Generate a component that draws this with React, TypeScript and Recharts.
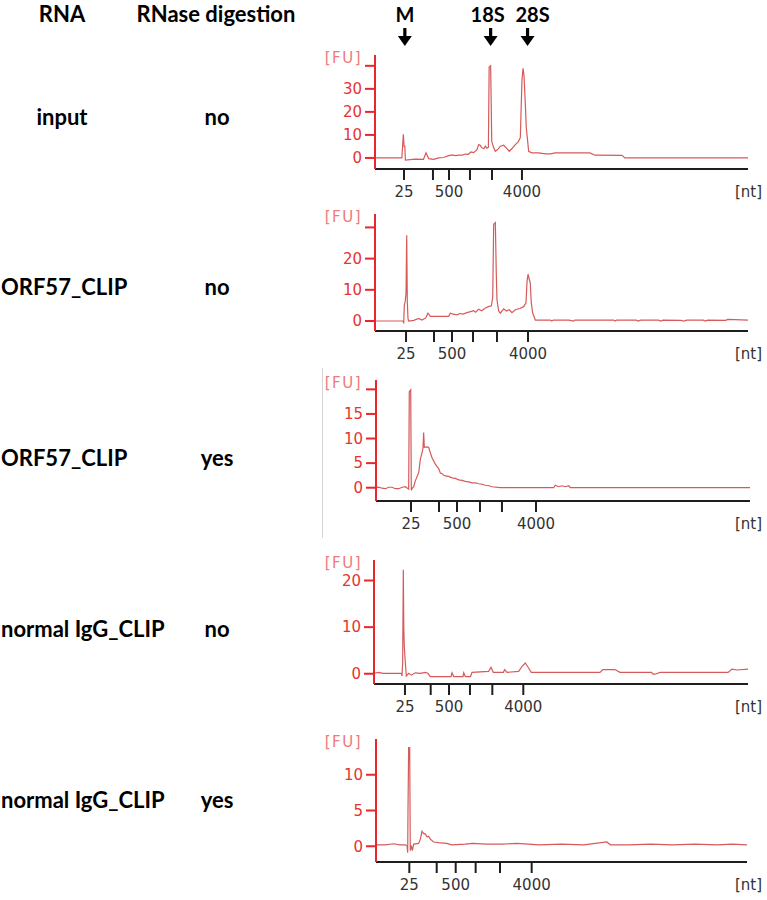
import React from "react";
import { LineChart, Line, XAxis, YAxis } from "recharts";

// Bioanalyzer electropherograms, x = migration time (s), y = fluorescence [FU]
type Pt = [number, number];

const rnaLabels = ["input", "ORF57_CLIP", "ORF57_CLIP", "normal IgG_CLIP", "normal IgG_CLIP"];
const rnaseLabels = ["no", "no", "yes", "no", "yes"];
const ladderLabels = ["25", "", "500", "", "", "4000"];
const markerLabels = ["M", "18S", "28S"];
const markerTimes = [22.0, 33.5, 38.45];

const inputLadder = [21.89, 25.77, 27.92, 30.73, 33.68, 37.7];
const orfLadder = [22.16, 25.91, 28.32, 31.14, 34.35, 38.51];
const orfRnaseLadder = [22.68, 26.42, 28.83, 31.9, 34.84, 39.39];
const iggLadder = [22.14, 25.58, 28.03, 30.83, 33.82, 37.96];
const iggRnaseLadder = [22.49, 26.18, 28.74, 31.43, 34.71, 38.98];

const inputTrace: Pt[] = [
  [18, 0], [21.6, 0], [21.8, 10.3], [21.9, 5], [22.0, 5], [22.07, -0.9], [23.4, -0.5], [24.5, -0.6],
  [24.84, 2.2], [25.2, -0.3], [25.87, -0.6], [26.53, 0], [27.2, 0.2], [27.78, 0.9], [28.32, 1.3],
  [28.8, 1.0], [29.22, 1.2], [29.7, 1.2], [30.1, 1.7], [30.5, 1.6], [30.87, 2.6], [31.23, 2.3],
  [31.67, 3.6], [31.9, 5.8], [32.1, 5.5], [32.34, 4.4], [32.6, 4.0], [32.79, 5.1], [33.0, 4.2],
  [33.2, 4.6], [33.3, 39.5], [33.5, 40], [33.65, 7.3], [33.9, 4.5], [34.13, 2.9], [34.5, 3.8],
  [34.8, 5.1], [35.25, 5.5], [35.6, 4.4], [36.0, 2.9], [36.4, 4.2], [36.81, 5.8], [37.2, 7.0],
  [37.48, 8.8], [37.7, 33.7], [37.84, 38.9], [37.97, 36], [38.15, 23.4], [38.28, 13.1], [38.6, 2.9],
  [39.0, 2.2], [39.94, 2.2], [40.83, 1.8], [41.5, 1.8], [42.17, 2.2], [44, 2.2], [46.8, 2.2],
  [47.5, 1.2], [51.1, 1.1], [51.5, 0], [68, 0],
];

const orfTrace: Pt[] = [
  [18, 0], [21.71, 0], [21.85, -0.5], [21.93, 5.2], [22.05, 6.2], [22.16, 8.9], [22.25, 27.5],
  [22.33, 6.2], [22.42, 0.9], [22.51, 0], [23.2, 0.2], [23.85, 0.8], [24.3, 0.3], [24.8, 1.0],
  [25.1, 2.5], [25.42, 1.5], [27.87, 1.5], [28.1, 2.5], [28.5, 2.2], [28.99, 2.0], [29.4, 2.4],
  [29.8, 2.2], [30.33, 2.7], [30.8, 3.0], [31.23, 3.3], [31.5, 2.8], [31.9, 3.8], [32.3, 3.3],
  [32.79, 4.2], [33.2, 4.6], [33.6, 4.9], [33.78, 7.6], [33.91, 31], [34.13, 31.5], [34.26, 15],
  [34.35, 6.8], [34.58, 3.2], [34.8, 2.5], [35.25, 3.9], [35.6, 3.2], [36.0, 3.6], [36.36, 2.7],
  [36.81, 3.6], [37.4, 4.0], [37.93, 4.6], [38.24, 5.8], [38.38, 12.7], [38.51, 15], [38.69, 13.3],
  [38.82, 12], [38.95, 5.8], [39.14, 2.5], [39.49, 0.3], [41.5, 0.3], [41.7, 0], [41.9, 0.3],
  [44, 0.3], [44.6, 0], [44.8, 0.3], [50, 0.3], [50.2, 0], [50.4, 0.3], [53, 0.3], [53.3, 0],
  [53.6, 0.3], [56, 0.3], [56.3, 0], [56.6, 0.3], [59, 0.2], [59.4, 0], [59.8, 0.3], [62, 0.3],
  [62.3, 0], [62.6, 0.3], [65, 0.2], [65.3, 0.5], [68, 0.3],
];

const orfRnaseTrace: Pt[] = [
  [18, 0], [18.36, 0.1], [18.8, -0.1], [19.25, -0.2], [19.7, 0.1], [20.14, 0.1], [20.6, -0.2],
  [21.03, -0.2], [21.5, 0.1], [21.92, 0.2], [22.37, -0.3], [22.45, 19.5], [22.64, 19.9], [22.72, -0.5],
  [22.81, -0.2], [23.04, 0.2], [23.26, 1.4], [23.71, 3.1], [23.93, 5.8], [24.15, 7.1], [24.28, 8.0],
  [24.37, 11.2], [24.46, 8.2], [24.82, 8.3], [25.04, 8.2], [25.26, 7.1], [25.49, 6.1], [25.93, 4.8],
  [26.38, 3.9], [26.6, 3.0], [26.82, 2.9], [27.0, 2.6], [27.27, 2.4], [27.7, 2.3], [28.16, 2.0],
  [28.6, 1.9], [29.06, 1.6], [29.5, 1.5], [29.94, 1.3], [30.4, 1.2], [30.83, 1.0], [31.3, 1.0],
  [31.73, 0.8], [32.2, 0.7], [32.62, 0.5], [33.1, 0.4], [33.51, 0.2], [34.62, 0], [41.76, 0],
  [41.97, 0.5], [42.4, 0.2], [42.87, 0.4], [43.3, 0.2], [43.76, 0.4], [43.98, 0], [68, 0],
];

const iggTrace: Pt[] = [
  [18, 0.1], [18.62, 0.3], [19.2, 0.1], [20.41, 0.1], [21.65, 0.1], [21.74, -0.5], [21.83, 2.3],
  [21.92, 22.3], [21.98, 10], [22.05, 5.8], [22.19, 2.3], [22.32, -0.5], [22.64, 0.1], [23.0, -0.3],
  [23.53, 0.2], [24.2, 0.1], [24.86, 0.3], [25.2, 0.1], [25.53, -0.6], [28.3, -0.6], [28.43, 0.2],
  [28.66, -0.6], [29.9, -0.6], [29.99, 0.2], [30.21, -0.6], [30.9, -0.6], [31.1, 0.3], [33.33, 0.5],
  [33.64, 1.4], [33.95, 0.3], [35.3, 0.3], [35.47, 0.9], [35.78, 0.3], [37.34, 0.5], [37.8, 1.6],
  [38.23, 2.3], [38.6, 1.4], [39.03, 0.3], [48.21, 0.3], [48.6, 0.9], [50.2, 0.9], [50.88, 0.3],
  [55.1, 0.3], [55.3, -0.1], [55.6, -0.1], [56.24, 0.3], [65.33, 0.3], [65.86, 1.0], [66.5, 0.8],
  [68, 1.0],
];

const iggRnaseTrace: Pt[] = [
  [18, 0.2], [19.2, 0.2], [20.38, 0.35], [21.2, 0.2], [21.95, 0.2], [22.18, 0.1], [22.27, -0.9],
  [22.31, 4.7], [22.4, 13.8], [22.54, 13.8], [22.62, -0.6], [22.76, 0.1], [22.9, -0.6], [23.08, 0.3],
  [23.75, 0.4], [23.98, 1.0], [24.2, 2.1], [24.4, 1.8], [24.65, 1.7], [24.9, 1.3], [25.1, 1.4],
  [25.32, 1.0], [25.77, 0.6], [26.45, 0.5], [27.5, 0.4], [28.24, 0.2], [30, 0.3], [31, 0.4],
  [33, 0.3], [35, 0.3], [37, 0.4], [40, 0.2], [43, 0.3], [46, 0.2], [49.1, 0.6], [49.6, 0.2],
  [52, 0.2], [55, 0.3], [58, 0.2], [61, 0.3], [64, 0.2], [66, 0.3], [68, 0.2],
];

const TIME_DOMAIN: [number, number] = [18, 68];
const TRACE = "#d65a5a";
const AXIS_RED = "#e8262b";
const TICK_FONT = "DejaVu Sans";

type PanelCfg = {
  trace: Pt[];
  ladder: number[];
  yDomain: [number, number];
  yTicks: number[];
  hideTop: boolean;
  plotLeft: number;
  plotRight: number;
  plotTop: number;
  plotBottom: number;
};

const panels: PanelCfg[] = [
  { trace: inputTrace, ladder: inputLadder, yDomain: [-4.8, 44.7], yTicks: [0, 10, 20, 30, 40], hideTop: true,
    plotLeft: 375, plotRight: 748, plotTop: 55, plotBottom: 169 },
  { trace: orfTrace, ladder: orfLadder, yDomain: [-3.2, 34.3], yTicks: [0, 10, 20, 30], hideTop: true,
    plotLeft: 375, plotRight: 748, plotTop: 214, plotBottom: 331 },
  { trace: orfRnaseTrace, ladder: orfRnaseLadder, yDomain: [-2.7, 21.9], yTicks: [0, 5, 10, 15, 20], hideTop: true,
    plotLeft: 376, plotRight: 750, plotTop: 380, plotBottom: 501 },
  { trace: iggTrace, ladder: iggLadder, yDomain: [-2.2, 24.4], yTicks: [0, 10, 20], hideTop: false,
    plotLeft: 374, plotRight: 748, plotTop: 560, plotBottom: 684 },
  { trace: iggRnaseTrace, ladder: iggRnaseLadder, yDomain: [-2.2, 15.0], yTicks: [0, 5, 10], hideTop: false,
    plotLeft: 376, plotRight: 747, plotTop: 739, plotBottom: 862 },
];

const rowY = [117, 287, 458, 629, 800];

function Panel({ p }: { p: PanelCfg }) {
  const xAxisH = 40;
  const top = p.plotTop - 4;
  const height = p.plotBottom + xAxisH - top;
  const data = p.trace.map(([t, fu]) => ({ t, fu }));
  const topTick = p.yTicks[p.yTicks.length - 1];
  return (
    <div style={{ position: "absolute", left: 300, top, width: 467, height }}>
      <LineChart width={467} height={height} data={data}
        margin={{ top: 4, right: 767 - p.plotRight, bottom: 0, left: 0 }}>
        <XAxis dataKey="t" type="number" domain={TIME_DOMAIN} ticks={p.ladder} interval={0}
          allowDataOverflow height={xAxisH} tickSize={11}
          axisLine={{ stroke: "#1e1e1e", strokeWidth: 2 }}
          tickLine={{ stroke: "#1e1e1e", strokeWidth: 2 }}
          tick={(props: any) => {
            const i = p.ladder.indexOf(props.payload.value);
            return (
              <text x={props.x} y={props.y + 10} textAnchor="middle" dominantBaseline="central"
                fill="#333" fontSize={15} fontFamily={TICK_FONT}>
                {ladderLabels[i] ?? ""}
              </text>
            );
          }} />
        <YAxis type="number" domain={p.yDomain} ticks={p.yTicks} interval={0} allowDataOverflow
          width={p.plotLeft - 300} tickSize={10} tickMargin={3}
          axisLine={{ stroke: AXIS_RED, strokeWidth: 2 }}
          tickLine={{ stroke: AXIS_RED, strokeWidth: 2 }}
          tick={{ fill: "#e8332f", fontSize: 15, fontFamily: TICK_FONT }}
          tickFormatter={(v: number) => (p.hideTop && v === topTick ? "" : String(v))} />
        <Line type="linear" dataKey="fu" stroke={TRACE} strokeWidth={1.2} dot={false}
          isAnimationActive={false} />
      </LineChart>
    </div>
  );
}

const boldText: React.CSSProperties = {
  position: "absolute", fontFamily: "Lato", fontWeight: 700, fontSize: 22, lineHeight: 1,
  whiteSpace: "nowrap", color: "#000",
};

export default function App() {
  const p0 = panels[0];
  const toPx = (t: number) =>
    p0.plotLeft + ((t - TIME_DOMAIN[0]) / (TIME_DOMAIN[1] - TIME_DOMAIN[0])) * (p0.plotRight - p0.plotLeft);
  const markerShift = [0, -3, 5];
  return (
    <div style={{ position: "absolute", left: 0, top: 0, width: 767, height: 900, background: "#fff", overflow: "hidden" }}>
      <div style={{ ...boldText, left: 62, top: 14, transform: "translate(-50%,-50%)" }}>RNA</div>
      <div style={{ ...boldText, left: 216, top: 14, transform: "translate(-50%,-50%)" }}>RNase digestion</div>
      {rnaLabels.map((s, i) => (
        <div key={"r" + i} style={{ ...boldText, left: s === "input" ? 62 : 1, top: rowY[i],
          transform: s === "input" ? "translate(-50%,-50%)" : "translate(0,-50%)" }}>{s}</div>
      ))}
      {rnaseLabels.map((s, i) => (
        <div key={"n" + i} style={{ ...boldText, left: 217, top: rowY[i], transform: "translate(-50%,-50%)" }}>{s}</div>
      ))}
      {markerLabels.map((s, i) => (
        <div key={"m" + i} style={{ ...boldText, fontSize: 20, left: toPx(markerTimes[i]) + markerShift[i], top: 14,
          transform: "translate(-50%,-50%)" }}>{s}</div>
      ))}
      <svg width={767} height={60} style={{ position: "absolute", left: 0, top: 0 }}>
        {markerTimes.map((t, i) => {
          const x = toPx(t);
          return (
            <g key={i} fill="#000">
              <rect x={x - 1.6} y={28} width={3.2} height={9} />
              <polygon points={`${x - 7},36 ${x + 7},36 ${x},46`} />
            </g>
          );
        })}
      </svg>
      <div style={{ position: "absolute", left: 322, top: 368, width: 1, height: 170, background: "#d4d4d4" }} />
      {panels.map((p, i) => (
        <React.Fragment key={"p" + i}>
          <Panel p={p} />
          <div style={{ position: "absolute", left: 362, top: p.plotTop + 3, transform: "translate(-100%,-50%)",
            fontFamily: TICK_FONT, fontSize: 15, lineHeight: 1, color: "#f07a7a", letterSpacing: 1.5, whiteSpace: "nowrap" }}>[FU]</div>
          <div style={{ position: "absolute", left: 762, top: p.plotBottom + 23, transform: "translate(-100%,-50%)",
            fontFamily: TICK_FONT, fontSize: 15, lineHeight: 1, color: "#333", whiteSpace: "nowrap" }}>[nt]</div>
        </React.Fragment>
      ))}
    </div>
  );
}
